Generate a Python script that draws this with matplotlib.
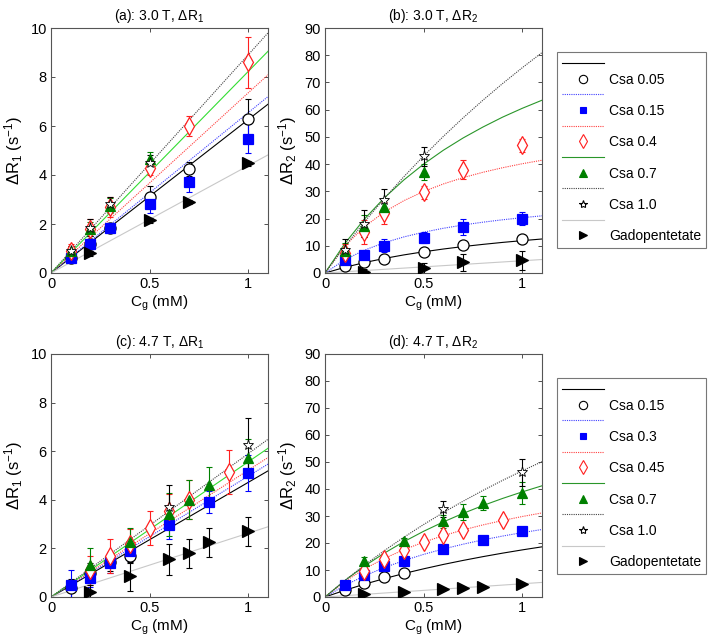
import matplotlib
matplotlib.use("Agg")
import matplotlib.pyplot as plt
from matplotlib.lines import Line2D

plt.rcParams['font.family'] = ['Liberation Sans', 'DejaVu Sans']
plt.rcParams['mathtext.fontset'] = 'custom'
plt.rcParams['mathtext.rm'] = 'Liberation Sans'
plt.rcParams['mathtext.it'] = 'Liberation Sans:italic'
plt.rcParams['mathtext.bf'] = 'Liberation Sans:bold'

# ---------------- Panel (a): 3.0 T, dR1 ----------------
a_labels = ["Csa 0.05", "Csa 0.15", "Csa 0.4", "Csa 0.7", "Csa 1.0", "Gadopentetate"]
a_x = [[0.1, 0.2, 0.3, 0.5, 0.7, 1.0],
       [0.1, 0.2, 0.3, 0.5, 0.7, 1.0],
       [0.1, 0.2, 0.3, 0.5, 0.7, 1.0],
       [0.1, 0.2, 0.3, 0.5],
       [0.1, 0.2, 0.3, 0.5],
       [0.2, 0.5, 0.7, 1.0]]
a_y = [[0.6, 1.2, 1.85, 3.1, 4.25, 6.3],
       [0.6, 1.2, 1.85, 2.8, 3.7, 5.48],
       [0.9, 1.8, 2.7, 4.3, 6.0, 8.6],
       [0.9, 1.8, 2.75, 4.65],
       [0.9, 1.85, 2.8, 4.5],
       [0.8, 2.15, 2.9, 4.47]]
a_err = [[0.2, 0.2, 0.2, 0.45, 0.3, 0.8],
         [0.15, 0.3, 0.15, 0.35, 0.4, 0.6],
         [0.3, 0.4, 0.4, 0.3, 0.4, 1.05],
         [0.2, 0.3, 0.3, 0.3],
         [0.2, 0.35, 0.3, 0.3],
         [0.1, 0.1, 0.1, 0.1]]
a_fit_x = [0.0, 1.1]
a_fit_y = [[0.0, 6.89],
           [0.0, 7.2],
           [0.0, 8.09],
           [0.0, 9.05],
           [0.0, 9.8],
           [0.0, 4.82]]

# ---------------- Panel (b): 3.0 T, dR2 ----------------
b_x = a_x
b_y = [[2.5, 3.9, 5.3, 7.6, 10.2, 12.6],
       [4.6, 6.5, 10.1, 12.9, 17.0, 20.0],
       [7.5, 15.0, 21.9, 29.6, 37.9, 46.9],
       [8.0, 17.3, 24.4, 37.0],
       [8.5, 18.1, 26.9, 42.9],
       [0.4, 1.8, 3.9, 4.7]]
b_err = [[0.5, 0.8, 0.8, 1.0, 1.0, 1.0],
         [1.0, 1.5, 2.5, 2.0, 3.0, 2.5],
         [3.0, 4.5, 4.0, 2.5, 3.5, 2.5],
         [3.0, 4.0, 3.0, 3.0],
         [4.0, 5.0, 4.0, 3.5],
         [1.0, 2.0, 3.0, 3.5]]
b_fit_x = [0.0, 0.1, 0.2, 0.3, 0.4, 0.5, 0.6, 0.7, 0.8, 0.9, 1.0, 1.1]
b_fit_y = [[0.0, 2.07, 3.83, 5.34, 6.65, 7.79, 8.81, 9.71, 10.51, 11.24, 11.89, 12.49],
           [0.0, 4.85, 8.40, 11.12, 13.26, 15.0, 16.43, 17.64, 18.66, 19.55, 20.32, 21.0],
           [0.0, 9.88, 17.0, 22.38, 26.58, 29.95, 32.72, 35.03, 36.99, 38.67, 40.14, 41.42],
           [0.0, 10.78, 19.83, 27.55, 34.2, 40.0, 45.1, 49.6, 53.6, 57.25, 60.5, 63.47],
           [0.0, 9.68, 18.78, 27.33, 35.39, 42.99, 50.18, 56.99, 63.45, 69.58, 75.41, 80.97],
           [0.0, 0.45, 0.9, 1.35, 1.8, 2.25, 2.7, 3.15, 3.6, 4.05, 4.5, 4.95]]

# ---------------- Panel (c): 4.7 T, dR1 ----------------
c_labels = ["Csa 0.15", "Csa 0.3", "Csa 0.45", "Csa 0.7", "Csa 1.0", "Gadopentetate"]
c_x = [[0.1, 0.2, 0.3, 0.4],
       [0.1, 0.2, 0.3, 0.4, 0.6, 0.8, 1.0],
       [0.2, 0.3, 0.4, 0.5, 0.6, 0.7, 0.9],
       [0.2, 0.4, 0.6, 0.7, 0.8, 1.0],
       [0.6, 1.0],
       [0.2, 0.4, 0.6, 0.7, 0.8, 1.0]]
c_y = [[0.35, 1.0, 1.45, 1.7],
       [0.5, 0.8, 1.4, 1.9, 2.95, 3.9, 5.1],
       [1.1, 1.7, 2.2, 2.85, 3.55, 4.0, 5.15],
       [1.3, 2.25, 3.4, 4.0, 4.6, 5.7],
       [3.7, 6.25],
       [0.2, 0.85, 1.55, 1.8, 2.25, 2.7]]
c_err = [[0.4, 0.4, 0.4, 0.3],
         [0.6, 0.4, 0.4, 0.4, 0.55, 0.45, 0.75],
         [0.6, 0.7, 0.6, 0.7, 0.7, 0.8, 0.9],
         [0.7, 0.6, 0.9, 0.8, 0.75, 0.8],
         [0.9, 1.1],
         [0.3, 0.6, 0.65, 0.6, 0.6, 0.6]]
c_fit_x = [0.0, 1.1]
c_fit_y = [[0.0, 5.19],
           [0.0, 5.47],
           [0.0, 5.74],
           [0.0, 6.12],
           [0.0, 6.49],
           [0.0, 2.89]]

# ---------------- Panel (d): 4.7 T, dR2 ----------------
d_x = c_x
d_y = [[2.7, 5.3, 7.3, 9.0],
       [4.6, 8.0, 11.5, 13.5, 17.7, 21.2, 24.4],
       [9.7, 14.0, 17.3, 20.3, 23.1, 24.8, 28.6],
       [13.4, 20.8, 28.0, 31.6, 34.9, 38.6],
       [32.5, 46.2],
       [1.0, 1.9, 3.0, 3.3, 3.8, 4.7]]
d_err = [[0.5, 0.5, 0.5, 0.5],
         [0.8, 0.8, 1.0, 1.0, 1.0, 1.0, 1.5],
         [1.0, 1.0, 1.0, 1.0, 1.5, 1.5, 1.5],
         [1.5, 1.0, 2.5, 3.0, 2.5, 4.0],
         [3.0, 5.0],
         [0.3, 0.3, 0.3, 0.3, 0.3, 0.3]]
d_fit_x = [0.0, 0.1, 0.2, 0.3, 0.4, 0.5, 0.6, 0.7, 0.8, 0.9, 1.0, 1.1]
d_fit_y = [[0.0, 2.48, 4.74, 6.80, 8.70, 10.44, 12.06, 13.55, 14.94, 16.24, 17.45, 18.58],
           [0.0, 4.26, 7.84, 10.88, 13.5, 15.79, 17.79, 19.56, 21.15, 22.57, 23.85, 25.0],
           [0.0, 5.73, 10.39, 14.26, 17.53, 20.32, 22.73, 24.84, 26.69, 28.33, 29.81, 31.14],
           [0.0, 6.08, 11.45, 16.22, 20.49, 24.34, 27.81, 30.97, 33.86, 36.5, 38.93, 41.19],
           [0.0, 6.10, 11.79, 17.13, 22.14, 26.85, 31.29, 35.48, 39.44, 43.19, 46.74, 50.12],
           [0.0, 0.49, 0.98, 1.47, 1.96, 2.45, 2.94, 3.43, 3.92, 4.41, 4.9, 5.4]]

# ---------------- Styles ----------------
marker_styles = [
    dict(marker='o', mfc='white', mec='black', ms=8, color='black'),
    dict(marker='s', mfc='#0000ff', mec='#0000ff', ms=6.5, color='#0000ff'),
    dict(marker='d', mfc='white', mec='#ff2020', ms=9, color='#ff2020'),
    dict(marker='^', mfc='#008000', mec='#008000', ms=7.5, color='#008000'),
    dict(marker='*', mfc='white', mec='black', ms=8, color='black', mew=0.6),
    dict(marker='>', mfc='black', mec='black', ms=8, color='black'),
]
line_styles_r1 = [
    dict(color='black', ls='-', lw=0.8),
    dict(color='#4040ff', ls=(0, (1, 1)), lw=0.8),
    dict(color='#ff4040', ls=(0, (1, 1)), lw=0.8),
    dict(color='#33dd33', ls='-', lw=0.8),
    dict(color='#444444', ls=(0, (1, 1)), lw=0.8),
    dict(color='#c8c8c8', ls='-', lw=0.8),
]
line_styles_r2 = [
    dict(color='black', ls='-', lw=0.8),
    dict(color='#4040ff', ls=(0, (1, 1)), lw=0.8),
    dict(color='#ff4040', ls=(0, (1, 1)), lw=0.8),
    dict(color='#2a962a', ls='-', lw=0.8),
    dict(color='#444444', ls=(0, (1, 1)), lw=0.8),
    dict(color='#c8c8c8', ls='-', lw=0.8),
]

W, H = 708, 644
fig = plt.figure(figsize=(W / 100, H / 100), dpi=100)


def make_ax(left, top, right, bottom):
    return fig.add_axes([left / W, 1 - bottom / H, (right - left) / W, (bottom - top) / H])


def draw_panel(ax, xs, ys, errs, fx, fys, lstyles, title, ylabel, ymax, ystep):
    for i in range(len(xs)):
        ax.plot(fx, fys[i], **lstyles[i], zorder=2)
    for i in range(len(xs)):
        ms = marker_styles[i]
        ax.errorbar(xs[i], ys[i], yerr=errs[i], fmt='none', ecolor=ms['color'],
                    elinewidth=0.8, capsize=2, capthick=0.8, zorder=3)
        ax.plot(xs[i], ys[i], ls='none', marker=ms['marker'], mfc=ms['mfc'],
                mec=ms['mec'], ms=ms['ms'], mew=ms.get('mew', 0.9), zorder=4)
    ax.set_xlim(0, 1.1)
    ax.set_ylim(0, ymax)
    ax.set_xticks([0, 0.5, 1])
    ax.set_xticklabels(['0', '0.5', '1'])
    ax.set_yticks(list(range(0, ymax + 1, ystep)))
    ax.tick_params(direction='in', top=True, right=True, length=3, width=0.6,
                   labelsize=10.5, pad=3, color='#333333')
    for sp in ax.spines.values():
        sp.set_color('#555555')
        sp.set_linewidth(0.8)
    ax.set_title(title, fontsize=10, pad=6)
    ax.set_xlabel('C$_\\mathrm{g}$ (mM)', fontsize=11, labelpad=2)
    ax.set_ylabel(ylabel, fontsize=12, labelpad=4)


r1_label = '$\\Delta$R$_\\mathrm{1}$ (s$^\\mathrm{-1}$)'
r2_label = '$\\Delta$R$_\\mathrm{2}$ (s$^\\mathrm{-1}$)'

ax_a = make_ax(51, 28, 268, 273)
draw_panel(ax_a, a_x, a_y, a_err, a_fit_x, a_fit_y, line_styles_r1,
           '(a): 3.0 T, $\\Delta$R$_\\mathrm{1}$', r1_label, 10, 2)
ax_b = make_ax(325, 28, 542, 273)
draw_panel(ax_b, b_x, b_y, b_err, b_fit_x, b_fit_y, line_styles_r2,
           '(b): 3.0 T, $\\Delta$R$_\\mathrm{2}$', r2_label, 90, 10)
ax_c = make_ax(51, 354, 268, 597)
draw_panel(ax_c, c_x, c_y, c_err, c_fit_x, c_fit_y, line_styles_r1,
           '(c): 4.7 T, $\\Delta$R$_\\mathrm{1}$', r1_label, 10, 2)
ax_d = make_ax(325, 354, 542, 597)
draw_panel(ax_d, d_x, d_y, d_err, d_fit_x, d_fit_y, line_styles_r2,
           '(d): 4.7 T, $\\Delta$R$_\\mathrm{2}$', r2_label, 90, 10)


def legend_for(labels, lstyles, top_px):
    handles, texts = [], []
    for i, lab in enumerate(labels):
        handles.append(Line2D([], [], **lstyles[i]))
        texts.append(' ')
        ms = marker_styles[i]
        handles.append(Line2D([], [], ls='none', marker=ms['marker'], mfc=ms['mfc'],
                              mec=ms['mec'], ms=ms['ms'] * 0.75, mew=0.8))
        texts.append(lab)
    leg = fig.legend(handles, texts, loc='upper left',
                     bbox_to_anchor=(557 / W, 1 - top_px / H),
                     bbox_transform=fig.transFigure, fontsize=10,
                     handlelength=3.0, handletextpad=0.4, labelspacing=0.12,
                     borderpad=0.35, borderaxespad=0, frameon=True, fancybox=False)
    fr = leg.get_frame()
    fr.set_edgecolor('#555555')
    fr.set_linewidth(0.8)
    return leg


legend_for(a_labels, line_styles_r2, 52)
legend_for(c_labels, line_styles_r2, 378)

fig.savefig('out.png', dpi=100)
